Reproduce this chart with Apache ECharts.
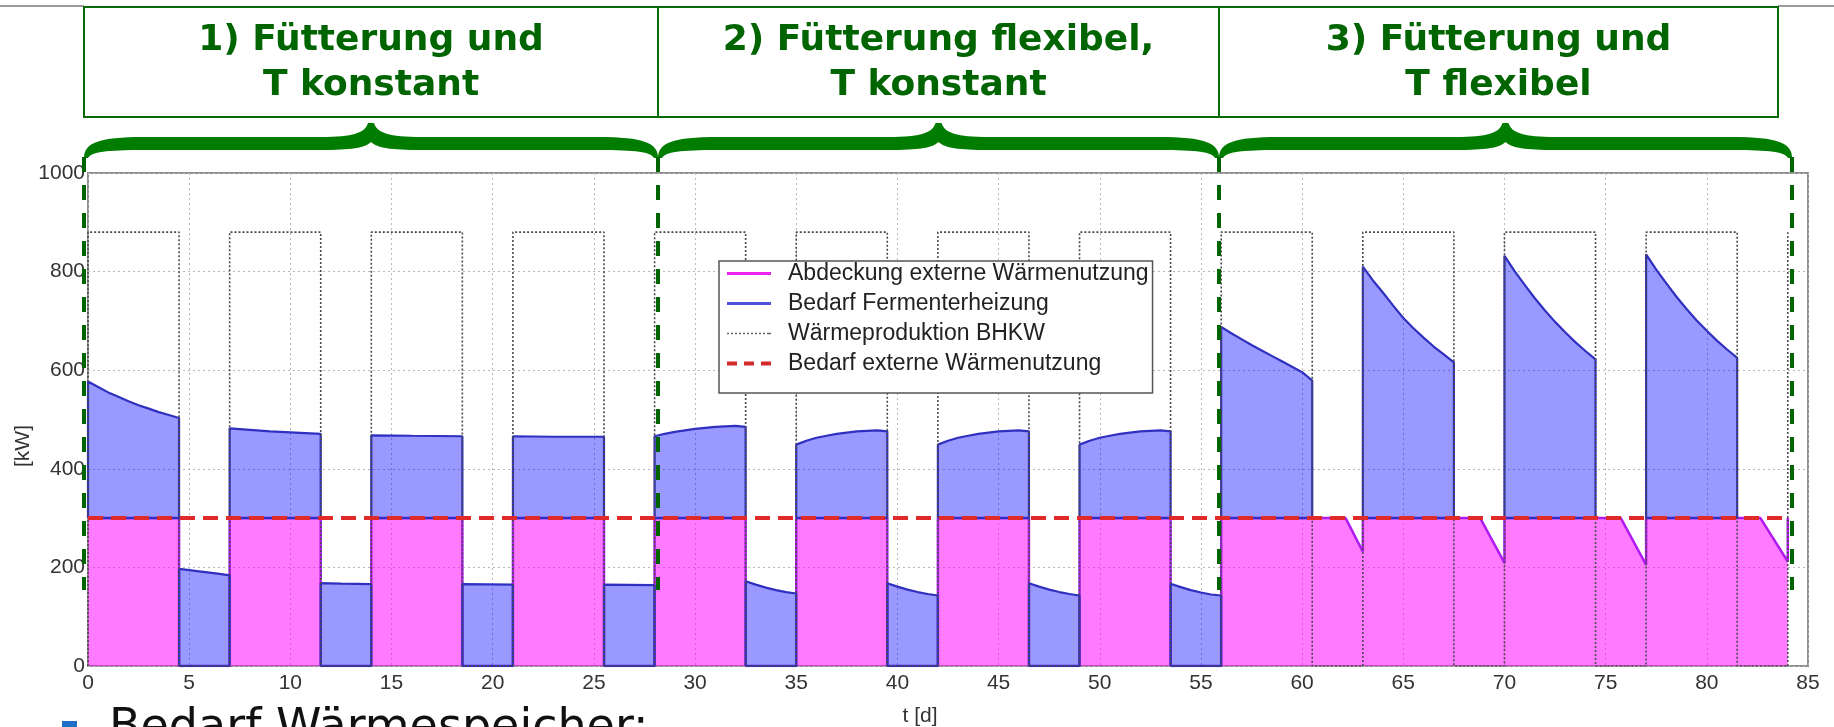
<!DOCTYPE html>
<html>
<head>
<meta charset="utf-8">
<script src="https://cdn.jsdelivr.net/npm/echarts@6/dist/echarts.min.js"></script>
<style>
  html, body { margin: 0; padding: 0; background: #fff; }
  #chart { width: 1834px; height: 727px; }
</style>
</head>
<body>
<div id="chart"></div>
<script>
// Axis ranges and tick steps
const dayAxis = [0, 85, 5];        // min, max, step  (t [d])
const kwAxis = [0, 1000, 200];     // min, max, step  ([kW])

// Operating scenarios along the time axis: start/end day of each block
const scenarioDays = [0, 28, 56, 84];
const scenarioTitles = [
  '1) Fütterung und\nT konstant',
  '2) Fütterung flexibel,\nT konstant',
  '3) Fütterung und\nT flexibel'
];

// Wärmeproduktion BHKW [t, kW]
const chpOutput = [
  [0, 0], [0, 880], [4.5, 880], [4.5, 0], [7, 0], [7, 880], [11.5, 880], [11.5, 0], [14, 0],
  [14, 880], [18.5, 880], [18.5, 0], [21, 0], [21, 880], [25.5, 880], [25.5, 0], [28, 0],
  [28, 880], [32.5, 880], [32.5, 0], [35, 0], [35, 880], [39.5, 880], [39.5, 0], [42, 0],
  [42, 880], [46.5, 880], [46.5, 0], [49, 0], [49, 880], [53.5, 880], [53.5, 0], [56, 0],
  [56, 880], [60.5, 880], [60.5, 0], [63, 0], [63, 880], [67.5, 880], [67.5, 0], [70, 0],
  [70, 880], [74.5, 880], [74.5, 0], [77, 0], [77, 880], [81.5, 880], [81.5, 0], [84, 0], [84, 880]
];

// Abdeckung externe Wärmenutzung [t, kW]
const externalCover = [
  [0, 300], [4.5, 300], [4.5, 0], [7, 0], [7, 300], [11.5, 300], [11.5, 0], [14, 0],
  [14, 300], [18.5, 300], [18.5, 0], [21, 0], [21, 300], [25.5, 300], [25.5, 0], [28, 0],
  [28, 300], [32.5, 300], [32.5, 0], [35, 0], [35, 300], [39.5, 300], [39.5, 0], [42, 0],
  [42, 300], [46.5, 300], [46.5, 0], [49, 0], [49, 300], [53.5, 300], [53.5, 0], [56, 0],
  [56, 300], [62.15, 300], [63, 232], [63, 300], [68.8, 300], [70, 209], [70, 300],
  [75.75, 300], [77, 205], [77, 300], [82.65, 300], [84, 212], [84, 300]
];

// Bedarf externe Wärmenutzung [t, kW]
const externalDemand = [[0, 300], [84, 300]];

// Bedarf Fermenterheizung, one list per feeding / pause interval [t, kW]
const demandPhase1 = [
  [[0, 577], [0.5, 566], [1, 555], [1.5, 546], [2, 537], [2.5, 529], [3, 522], [3.5, 515], [4, 509], [4.5, 503]],
  [[4.5, 197], [5.5, 192], [6.5, 187], [7, 184]],
  [[7, 482], [8, 479], [9, 476], [10, 474], [11, 472], [11.5, 471]],
  [[11.5, 168], [12.5, 167], [14, 166]],
  [[14, 468], [16, 467], [18.5, 466]],
  [[18.5, 166], [21, 165]],
  [[21, 466], [23, 465], [25.5, 465]],
  [[25.5, 165], [28, 164]]
];
const demandPhase2 = [
  [[28, 466], [28.5, 471], [29, 475], [29.5, 478], [30, 481], [31, 485], [32, 487], [32.5, 485]],
  [[32.5, 172], [33, 165], [33.5, 159], [34, 154], [34.5, 150], [35, 147]],
  [[35, 449], [35.5, 457], [36, 463], [36.5, 467], [37, 471], [38, 476], [39, 478], [39.5, 476]],
  [[39.5, 168], [40, 161], [40.5, 155], [41, 150], [41.5, 146], [42, 143]],
  [[42, 449], [42.5, 457], [43, 463], [43.5, 467], [44, 471], [45, 476], [46, 478], [46.5, 476]],
  [[46.5, 168], [47, 161], [47.5, 155], [48, 150], [48.5, 146], [49, 143]],
  [[49, 449], [49.5, 457], [50, 463], [50.5, 467], [51, 471], [52, 476], [53, 478], [53.5, 476]],
  [[53.5, 167], [54, 160], [54.5, 154], [55, 149], [55.5, 145], [56, 143]]
];
const demandPhase3 = [
  [[56, 688], [56.5, 675], [57, 663], [57.5, 651], [58, 640], [58.5, 629], [59, 618], [59.5, 607], [60, 596], [60.5, 579]],
  [[63, 810], [63.5, 782], [64, 757], [64.5, 731], [65, 706], [65.5, 685], [66, 666], [66.5, 648], [67, 632], [67.5, 616]],
  [[70, 832], [70.5, 801], [71, 773], [71.5, 746], [72, 721], [72.5, 698], [73, 677], [73.5, 657], [74, 639], [74.5, 622]],
  [[77, 835], [77.5, 804], [78, 776], [78.5, 749], [79, 724], [79.5, 701], [80, 680], [80.5, 660], [81, 642], [81.5, 625]]
];

// Coverage value just after (or just before) a given day
function coverAt(t, side) {
  for (let i = 0; i < externalCover.length - 1; i++) {
    const [t0, v0] = externalCover[i];
    const [t1, v1] = externalCover[i + 1];
    if (t1 === t0) continue;
    const inside = side === 'after' ? (t >= t0 && t < t1) : (t > t0 && t <= t1);
    if (inside) return v0 + (v1 - v0) * (t - t0) / (t1 - t0);
  }
  return 0;
}

// Each heating interval is drawn as a closed band between the coverage level and the demand curve
function buildDemandBands(segments) {
  const out = [];
  segments.forEach(seg => {
    const tStart = seg[0][0];
    const tEnd = seg[seg.length - 1][0];
    const baseStart = coverAt(tStart, 'after');
    const baseEnd = coverAt(tEnd, 'before');
    out.push([tStart, baseStart]);
    seg.forEach(p => out.push([p[0], p[1]]));
    out.push([tEnd, baseEnd]);
    out.push([tStart, baseStart]);
    out.push([tEnd, '-']);
  });
  return out;
}
const demandBands = buildDemandBands(demandPhase1.concat(demandPhase2, demandPhase3));

const labelFont = 'Liberation Sans, Arial, sans-serif';

const chart = echarts.init(document.getElementById('chart'));

const option = {
  animation: false,
  backgroundColor: '#ffffff',
  grid: {
    left: 88, right: 26, top: 173, bottom: 61,
    show: true, borderColor: '#8f8f8f', borderWidth: 2, backgroundColor: 'transparent'
  },
  xAxis: {
    type: 'value', min: dayAxis[0], max: dayAxis[1], interval: dayAxis[2],
    axisLine: { show: false }, axisTick: { show: false },
    axisLabel: { color: '#333', fontSize: 21, fontFamily: labelFont, margin: 7, formatter: v => String(v) },
    splitLine: { show: true, lineStyle: { color: '#b8b8b8', width: 1, type: [2, 3] } }
  },
  yAxis: {
    type: 'value', min: kwAxis[0], max: kwAxis[1], interval: kwAxis[2],
    axisLine: { show: false }, axisTick: { show: false },
    axisLabel: { color: '#333', fontSize: 21, fontFamily: labelFont, margin: 3, formatter: v => String(v) },
    splitLine: { show: true, lineStyle: { color: '#b8b8b8', width: 1, type: [2, 3] } }
  },
  legend: {
    orient: 'vertical', left: 719, top: 261, z: 10,
    selectedMode: false,
    backgroundColor: '#ffffff', borderColor: '#555', borderWidth: 1.5, borderRadius: 0,
    padding: [1, 4, 18, 8],
    itemWidth: 44, itemHeight: 22, itemGap: 7,
    textStyle: { fontFamily: labelFont, fontSize: 23, color: '#222', lineHeight: 23, padding: [0, 0, 0, 12] },
    data: [
      { name: 'Abdeckung externe Wärmenutzung', icon: 'path://M0,0H44V3H0Z', itemStyle: { color: '#ee22ee' } },
      { name: 'Bedarf Fermenterheizung', icon: 'path://M0,0H44V3H0Z', itemStyle: { color: '#5050dd' } },
      { name: 'Wärmeproduktion BHKW',
        icon: 'path://M0,0h2v1.6h-2z M4,0h2v1.6h-2z M8,0h2v1.6h-2z M12,0h2v1.6h-2z M16,0h2v1.6h-2z M20,0h2v1.6h-2z M24,0h2v1.6h-2z M28,0h2v1.6h-2z M32,0h2v1.6h-2z M36,0h2v1.6h-2z M40,0h2v1.6h-2z M42,0h2v1.6h-2z',
        itemStyle: { color: '#666' } },
      { name: 'Bedarf externe Wärmenutzung',
        icon: 'path://M0,0h10v4h-10z M17,0h10v4h-10z M34,0h10v4h-10z', itemStyle: { color: '#d42a2a' } }
    ]
  },
  series: [
    {
      name: 'Abdeckung externe Wärmenutzung', type: 'line', data: externalCover,
      symbol: 'none', z: 2, emphasis: { disabled: true },
      lineStyle: { color: '#b01cf0', width: 2.5 },
      itemStyle: { color: '#ee22ee' },
      areaStyle: { color: 'rgba(255,0,255,0.52)', opacity: 1 }
    },
    {
      name: 'Bedarf Fermenterheizung', type: 'line', data: demandBands,
      symbol: 'none', z: 3, connectNulls: false, emphasis: { disabled: true },
      lineStyle: { color: '#3030c0', width: 2.2 },
      itemStyle: { color: '#5050dd' },
      areaStyle: { color: 'rgba(0,0,255,0.4)', opacity: 1 }
    },
    {
      name: 'Wärmeproduktion BHKW', type: 'line', data: chpOutput,
      symbol: 'none', z: 4, emphasis: { disabled: true },
      lineStyle: { color: '#4a4a4a', width: 1.6, type: [2, 2] },
      itemStyle: { color: '#666' }
    },
    {
      name: 'Bedarf externe Wärmenutzung', type: 'line', data: externalDemand,
      symbol: 'none', z: 5, emphasis: { disabled: true },
      lineStyle: { color: '#e02a2a', width: 4, type: [15, 8] },
      itemStyle: { color: '#d42a2a' }
    }
  ]
};
chart.setOption(option);

// Scenario annotation: title boxes, curly braces and dashed separators placed on the time axis
const px = d => chart.convertToPixel({ gridIndex: 0 }, [d, 0])[0];
const edgeNudge = [-4, 3, -2, 4];
const edges = scenarioDays.map((d, i) => Math.round(px(d) + edgeNudge[i]));
const boxRight = edges[3] - 14;
const green = '#007d00';
const darkGreen = '#006400';

// Outline of a curly brace between two x positions, as move / line / cubic commands
function braceOutline(xa, xb) {
  const xm = (xa + xb) / 2;
  const yt = 137, yb = 150, yEnd = 158, yTip = 123, yNotch = 142;
  return [
    ['M', xa, yEnd],
    ['C', xa, yt + 6, xa + 14, yt, xa + 60, yt],
    ['L', xm - 50, yt],
    ['C', xm - 18, yt, xm - 6, yt - 4, xm - 3, yTip],
    ['L', xm + 3, yTip],
    ['C', xm + 6, yt - 4, xm + 18, yt, xm + 50, yt],
    ['L', xb - 60, yt],
    ['C', xb - 14, yt, xb, yt + 6, xb, yEnd],
    ['L', xb - 4, yEnd],
    ['C', xb - 7, yb + 2, xb - 22, yb, xb - 60, yb],
    ['L', xm + 50, yb],
    ['C', xm + 20, yb, xm + 6, yb - 2, xm, yNotch],
    ['C', xm - 6, yb - 2, xm - 20, yb, xm - 50, yb],
    ['L', xa + 60, yb],
    ['C', xa + 22, yb, xa + 7, yb + 2, xa + 4, yEnd]
  ];
}
// Flatten the outline into polygon points
function outlinePoints(cmds) {
  const pts = [];
  let cx = 0, cy = 0;
  cmds.forEach(c => {
    if (c[0] === 'M' || c[0] === 'L') {
      cx = c[1]; cy = c[2]; pts.push([cx, cy]);
    } else {
      const [, x1, y1, x2, y2, x3, y3] = c;
      for (let k = 1; k <= 16; k++) {
        const s = k / 16, r = 1 - s;
        pts.push([
          r * r * r * cx + 3 * r * r * s * x1 + 3 * r * s * s * x2 + s * s * s * x3,
          r * r * r * cy + 3 * r * r * s * y1 + 3 * r * s * s * y2 + s * s * s * y3
        ]);
      }
      cx = x3; cy = y3;
    }
  });
  return pts;
}

const graphics = [];
// slide header rule on either side of the title boxes
graphics.push({ type: 'line', z: 50, shape: { x1: 0, y1: 6, x2: edges[0], y2: 6 }, style: { stroke: '#9a9a9a', lineWidth: 2 } });
graphics.push({ type: 'line', z: 50, shape: { x1: boxRight, y1: 6, x2: 1834, y2: 6 }, style: { stroke: '#9a9a9a', lineWidth: 2 } });
// title boxes
graphics.push({ type: 'rect', z: 50, shape: { x: edges[0], y: 7, width: boxRight - edges[0], height: 110 },
  style: { fill: null, stroke: '#0a6a0a', lineWidth: 2 } });
[edges[1], edges[2]].forEach(x => graphics.push({ type: 'line', z: 50,
  shape: { x1: x, y1: 7, x2: x, y2: 117 }, style: { stroke: '#0a6a0a', lineWidth: 2 } }));
const cellEdges = [edges[0], edges[1], edges[2], boxRight];
scenarioTitles.forEach((t, i) => graphics.push({
  type: 'text', z: 51,
  x: (cellEdges[i] + cellEdges[i + 1]) / 2, y: 63,
  style: { text: t, fill: darkGreen, font: 'bold 36px "DejaVu Sans"', align: 'center', verticalAlign: 'middle', lineHeight: 45 }
}));
// braces and dashed separators
for (let i = 0; i < 3; i++) {
  graphics.push({ type: 'polygon', z: 50, shape: { points: outlinePoints(braceOutline(edges[i], edges[i + 1])) }, style: { fill: green } });
}
edges.forEach(x => graphics.push({ type: 'line', z: 60,
  shape: { x1: x, y1: 157, x2: x, y2: 590 },
  style: { stroke: darkGreen, lineWidth: 4, lineDash: [15, 13] } }));
// axis names
graphics.push({ type: 'text', z: 50, x: 920, y: 716,
  style: { text: 't [d]', fill: '#333', font: '21px "Liberation Sans"', align: 'center', verticalAlign: 'middle' } });
graphics.push({ type: 'text', z: 50, x: 23, y: 446, rotation: Math.PI / 2,
  style: { text: '[kW]', fill: '#333', font: '21px "Liberation Sans"', align: 'center', verticalAlign: 'middle' } });
// slide bullet text below the chart
graphics.push({ type: 'rect', z: 50, shape: { x: 62, y: 721, width: 15, height: 8 }, style: { fill: '#1e6fc8' } });
graphics.push({ type: 'text', z: 50, x: 109, y: 729,
  style: { text: 'Bedarf Wärmespeicher:', fill: '#111', font: '46px "DejaVu Sans"', align: 'left', verticalAlign: 'middle' } });

chart.setOption({ graphic: graphics });
</script>
</body>
</html>
